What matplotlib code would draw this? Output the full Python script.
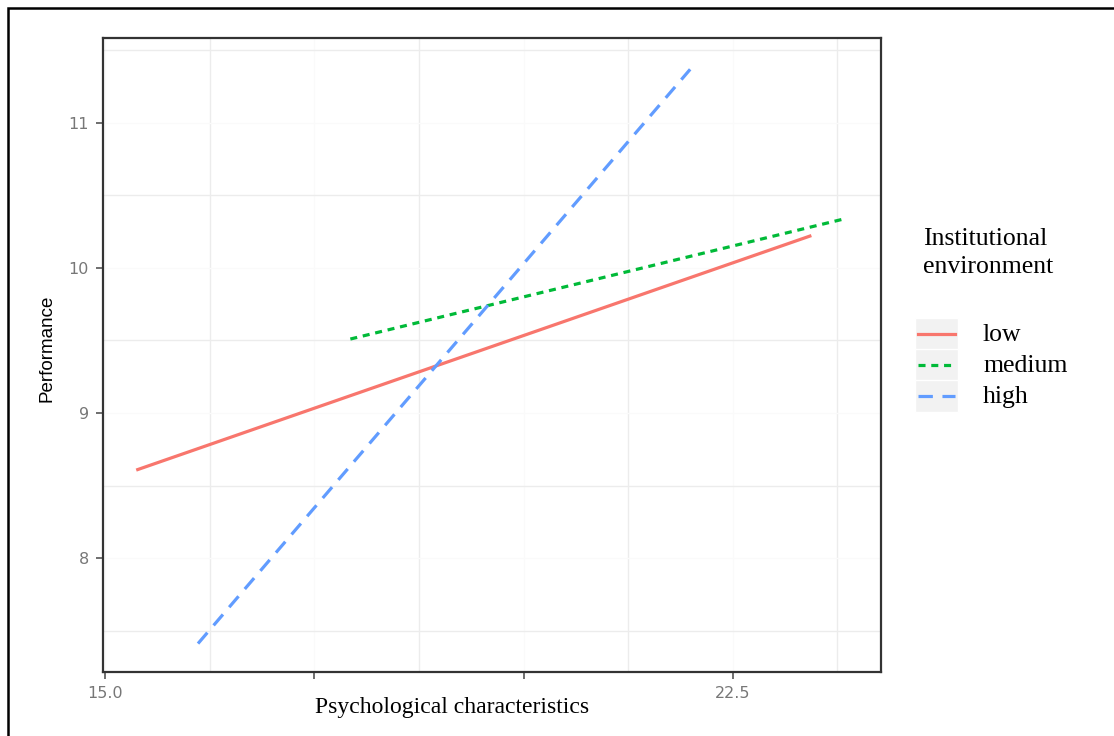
import matplotlib.pyplot as plt
from matplotlib.lines import Line2D
from matplotlib.patches import Rectangle

# dados (extremos de cada reta)
grupos = ['low', 'medium', 'high']
x_low = [15.39, 23.42]
y_low = [8.61, 10.22]
x_medium = [17.93, 23.84]
y_medium = [9.51, 10.34]
x_high = [16.11, 21.99]
y_high = [7.41, 11.37]

xticks = [15.0, 17.5, 20.0, 22.5]
xtick_labels = ['15.0', '', '', '22.5']
yticks = [8, 9, 10, 11]

cores = ['#F8766D', '#00BA38', '#619CFF']
estilos = ['-', (0, (2.2, 1.8)), (0, (4.5, 3.0))]

fig = plt.figure(figsize=(11.14, 7.36), dpi=100)
ax = fig.add_axes([103 / 1114, 1 - 672 / 736, 778 / 1114, 634 / 736])

series = [(x_low, y_low), (x_medium, y_medium), (x_high, y_high)]
for (xs, ys), cor, ls in zip(series, cores, estilos):
    ax.plot(xs, ys, color=cor, linestyle=ls, linewidth=2.3)

ax.set_xlim(14.975, 24.27)
ax.set_ylim(7.214, 11.586)
ax.set_xticks(xticks)
ax.set_xticklabels(xtick_labels)
ax.set_yticks(yticks)
ax.set_xticks([16.25, 18.75, 21.25, 23.75], minor=True)
ax.set_yticks([7.5, 8.5, 9.5, 10.5, 11.5], minor=True)
ax.tick_params(which='minor', length=0)
ax.tick_params(which='major', length=5, width=1.2, color='#555555',
               labelcolor='#777777', labelsize=11.5, pad=5)
ax.grid(which='minor', color='#ececec', linewidth=1)
ax.grid(which='major', color='#fafafa', linewidth=1)
ax.set_axisbelow(True)
for s in ax.spines.values():
    s.set_color('#333333')
    s.set_linewidth(1.6)

fig.text(452 / 1114, 1 - 707 / 736, 'Psychological characteristics',
         family='Liberation Serif', fontsize=17, ha='center', va='center')
fig.text(47 / 1114, 1 - 348 / 736, 'Performance', family='Liberation Sans',
         fontsize=13.5, rotation=90, ha='center', va='center')

# legenda manual
fig.text(923 / 1114, 1 - 253 / 736, 'Institutional\nenvironment',
         family='Liberation Serif', fontsize=18.5, ha='left', va='center',
         linespacing=1.38)
for i, (nome, cor, ls) in enumerate(zip(grupos, cores, estilos)):
    yc = 334 + i * 31
    fig.patches.append(Rectangle((915 / 1114, 1 - (yc + 16) / 736), 43 / 1114, 32 / 736,
                                 transform=fig.transFigure, facecolor='#f2f2f2',
                                 edgecolor='white', linewidth=1))
    fig.lines.append(Line2D([918 / 1114, 955 / 1114], [1 - yc / 736, 1 - yc / 736],
                            transform=fig.transFigure, color=cor, linestyle=ls,
                            linewidth=2.3))
    fig.text(983 / 1114, 1 - (yc + 1) / 736, nome, family='Liberation Serif',
             fontsize=18.5, ha='left', va='center')

# moldura externa
fig.patches.append(Rectangle((8 / 1114, -0.1), 1.2, 1 - 8 / 736 + 0.1,
                             transform=fig.transFigure, fill=False,
                             edgecolor='black', linewidth=1.8))

fig.savefig('out.png', dpi=100)
